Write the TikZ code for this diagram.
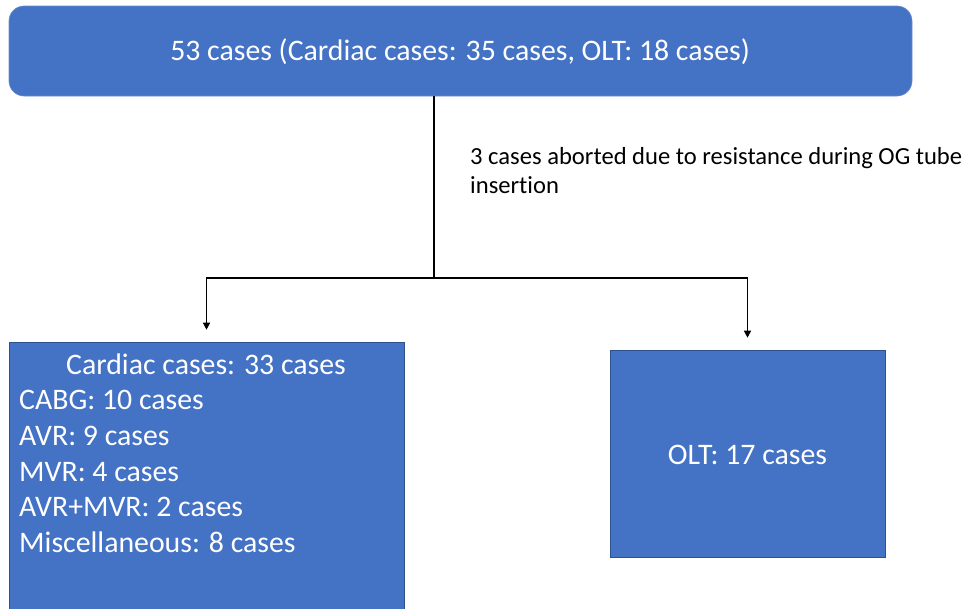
\documentclass[tikz,border=0pt]{standalone}
\usepackage{fontspec}
\setmainfont{Carlito}[Ligatures=NoCommon]
\usetikzlibrary{arrows.meta,calc}
\definecolor{boxblue}{HTML}{4472C4}
\definecolor{boxedge}{HTML}{2F528F}
\begin{document}
\begin{tikzpicture}[x=1pt,y=-1pt,
  bluebox/.style={fill=boxblue,draw=boxedge,line width=0.6pt,inner sep=0pt,text=white},
  conn/.style={line width=1.3pt,draw=black},
  arr/.style={conn,-{Triangle[width=7pt,length=7pt]}},
  bigtxt/.style={font=\fontsize{29.8}{35.8}\selectfont,text=white,inner sep=0pt},
]
\useasboundingbox (0,0) rectangle (969,608);
\node[bluebox,rounded corners=15pt,draw=boxblue!80!white,minimum width=903pt,minimum height=90pt] (top) at (460.5,51) {};
\node[bigtxt] (toptxt) at (460,52) {53 cases (Cardiac cases: 35 cases, OLT: 18 cases)};
\node[bluebox,minimum width=395pt,minimum height=290pt] (left) at (206.5,487) {};
\node[bluebox,minimum width=275pt,minimum height=207pt] (right) at (747.5,453.5) {};
\node[bigtxt] (lefttitle) at (206,364) {Cardiac cases: 33 cases};
\node[bigtxt,anchor=north west,align=left] (leftlist) at (19,390) {CABG: 10 cases\\AVR: 9 cases\\MVR: 4 cases\\AVR+MVR: 2 cases\\Miscellaneous: 8 cases};
\node[bigtxt] (righttxt) at (747.5,455) {OLT: 17 cases};
\coordinate (j) at (434,278);
\draw[conn] (j |- top.south) -- (j);
\draw[arr] (j) -| ([yshift=12pt]left.north);
\draw[arr] (j) -| ([yshift=12pt]right.north);
\node[anchor=west,align=left,inner sep=0pt,font=\fontsize{24.6}{29}\selectfont] (lbl) at (470,171) {3 cases aborted due to resistance during OG tube\\insertion};
\end{tikzpicture}
\end{document}
